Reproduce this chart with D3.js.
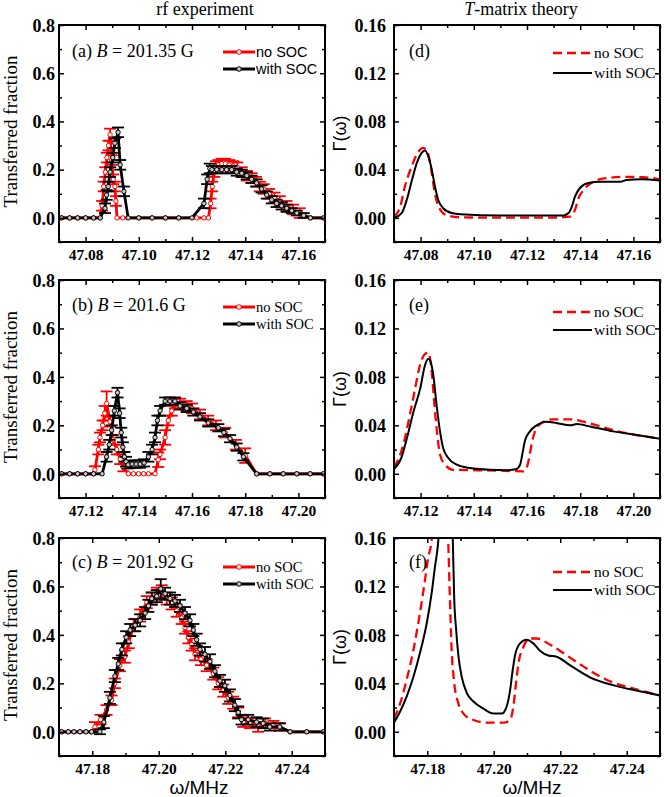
<!DOCTYPE html>
<html><head><meta charset="utf-8">
<script src="https://cdn.jsdelivr.net/npm/d3@7"></script>
<style>body{margin:0;background:#fff}</style>
</head><body><svg id="c" width="664" height="797" xmlns="http://www.w3.org/2000/svg"></svg>
<script>
// ---------------- DATA ----------------
// experimental: [frequency MHz, transferred fraction, error]
const expA_noSOC = [
[47.071,0,0],[47.074,0,0],[47.077,0,0],[47.080,0,0],[47.083,0,0],[47.0855,0,0],
[47.0862,0.05,0.02],[47.0868,0.13,0.02],[47.0874,0.19,0.02],[47.0880,0.25,0.02],[47.0886,0.30,0.02],[47.0892,0.345,0.025],[47.0898,0.24,0.02],[47.0904,0.16,0.02],[47.0910,0.13,0.02],[47.0914,0.07,0.02],[47.0918,0,0],[47.0940,0,0],
[47.1000,0,0],[47.1050,0,0],[47.1100,0,0],[47.1150,0,0],[47.1218,0,0],[47.1245,0,0],[47.1262,0,0],
[47.1270,0.06,0.02],[47.1276,0.13,0.02],[47.1284,0.19,0.02],[47.1290,0.215,0.02],[47.1300,0.22,0.02],[47.1312,0.225,0.02],[47.1325,0.225,0.02],[47.1340,0.22,0.02],[47.1355,0.215,0.02],[47.1370,0.21,0.02],[47.1387,0.19,0.02],[47.1406,0.175,0.02],[47.1424,0.165,0.02],[47.1440,0.15,0.02],[47.1455,0.13,0.02],[47.1470,0.12,0.02],[47.1490,0.10,0.02],[47.1510,0.085,0.02],[47.1530,0.07,0.02],[47.1555,0.05,0.02],[47.1580,0.035,0.02],[47.1605,0.02,0.02],[47.1645,0,0],[47.1695,0,0]
];
const expA_SOC = [
[47.071,0,0],[47.074,0,0],[47.077,0,0],[47.080,0,0],[47.083,0,0],[47.0855,0,0],
[47.0873,0.04,0.02],[47.0879,0.095,0.02],[47.0885,0.13,0.02],[47.0892,0.19,0.02],[47.0902,0.25,0.02],[47.0910,0.31,0.02],[47.0922,0.355,0.02],[47.0930,0.22,0.02],[47.0944,0.11,0.02],[47.0960,0,0],
[47.1000,0,0],[47.1050,0,0],[47.1100,0,0],[47.1150,0,0],[47.1200,0,0],
[47.1245,0.06,0.02],[47.1257,0.16,0.02],[47.1267,0.205,0.02],[47.1275,0.20,0.015],[47.1293,0.20,0.015],[47.1312,0.20,0.015],[47.1330,0.20,0.015],[47.1349,0.20,0.015],[47.1368,0.19,0.015],[47.1387,0.185,0.015],[47.1406,0.175,0.015],[47.1424,0.16,0.015],[47.1443,0.145,0.015],[47.1462,0.12,0.015],[47.1481,0.095,0.015],[47.1500,0.075,0.015],[47.1518,0.06,0.015],[47.1537,0.05,0.015],[47.1556,0.04,0.015],[47.1575,0.03,0.01],[47.1594,0.02,0.01],[47.1620,0.01,0.01],[47.1645,0,0],[47.1695,0,0]
];
const expB_noSOC = [
[47.111,0,0],[47.114,0,0],[47.117,0,0],[47.120,0,0],[47.123,0,0],
[47.1235,0.016,0.015],[47.1248,0.10,0.02],[47.1254,0.15,0.02],[47.1264,0.20,0.02],[47.1272,0.25,0.03],[47.1279,0.29,0.05],[47.1292,0.215,0.02],[47.1304,0.14,0.02],[47.1317,0.10,0.02],[47.1330,0.06,0.02],[47.1342,0.025,0.015],
[47.1361,0,0],[47.1380,0,0],[47.1399,0,0],[47.1418,0,0],[47.1436,0,0],[47.1461,0,0],
[47.1473,0.058,0.03],[47.1480,0.08,0.02],[47.1499,0.15,0.03],[47.1511,0.22,0.02],[47.1524,0.26,0.02],[47.1536,0.29,0.02],[47.1555,0.29,0.02],[47.1580,0.28,0.02],[47.1600,0.27,0.02],[47.1630,0.245,0.02],[47.1661,0.22,0.02],[47.1690,0.20,0.02],[47.1725,0.17,0.02],[47.1765,0.12,0.02],[47.1800,0.075,0.03],[47.1843,0,0],
[47.1893,0,0],[47.1943,0,0],[47.1994,0,0],[47.2044,0,0],[47.2094,0,0]
];
const expB_SOC = [
[47.111,0,0],[47.114,0,0],[47.117,0,0],[47.120,0,0],[47.123,0,0],[47.1262,0,0],
[47.1279,0.07,0.02],[47.1289,0.12,0.02],[47.1298,0.18,0.02],[47.1308,0.26,0.02],[47.1320,0.335,0.02],[47.1328,0.25,0.02],[47.1334,0.17,0.02],[47.1340,0.11,0.02],[47.1346,0.07,0.02],[47.1352,0.05,0.02],[47.1360,0.037,0.015],[47.1375,0.04,0.015],[47.1390,0.04,0.015],[47.1405,0.04,0.015],[47.1420,0.045,0.015],[47.1436,0.07,0.02],[47.1450,0.10,0.02],[47.1461,0.15,0.02],[47.1470,0.22,0.02],[47.1480,0.26,0.02],[47.1499,0.30,0.015],[47.1517,0.30,0.015],[47.1536,0.30,0.015],[47.1555,0.28,0.015],[47.1580,0.27,0.015],[47.1605,0.255,0.015],[47.1630,0.235,0.015],[47.1661,0.21,0.015],[47.1699,0.19,0.015],[47.1720,0.17,0.015],[47.1743,0.145,0.015],[47.1768,0.11,0.015],[47.1793,0.07,0.015],[47.1843,0,0],
[47.1893,0,0],[47.1943,0,0],[47.1994,0,0],[47.2044,0,0],[47.2094,0,0]
];
const expC_noSOC = [
[47.1708,0,0],[47.1728,0,0],[47.1745,0,0],[47.1763,0,0],[47.1781,0,0],[47.1798,0,0],
[47.1808,0.02,0.02],[47.1825,0.05,0.02],[47.1843,0.09,0.02],[47.1858,0.13,0.02],[47.1868,0.20,0.02],[47.1883,0.275,0.025],[47.1898,0.31,0.025],[47.1910,0.37,0.025],[47.1925,0.44,0.025],[47.1944,0.48,0.025],[47.1964,0.535,0.025],[47.1979,0.55,0.025],[47.1994,0.57,0.025],[47.2009,0.58,0.025],[47.2024,0.55,0.025],[47.2039,0.53,0.025],[47.2054,0.50,0.025],[47.2069,0.47,0.025],[47.2079,0.43,0.025],[47.2089,0.39,0.025],[47.2099,0.36,0.025],[47.2109,0.32,0.025],[47.2127,0.30,0.025],[47.2144,0.275,0.025],[47.2164,0.24,0.025],[47.2179,0.20,0.025],[47.2194,0.17,0.025],[47.2209,0.14,0.025],[47.2224,0.12,0.025],[47.2239,0.08,0.02],[47.2254,0.04,0.02],[47.2274,0.035,0.02],[47.2299,0.02,0.02],[47.2320,0.035,0.02],[47.2345,0.03,0.015],[47.2364,0.02,0.015],[47.2395,0,0],[47.2445,0,0],[47.2495,0,0]
];
const expC_SOC = [
[47.1708,0,0],[47.1728,0,0],[47.1745,0,0],[47.1763,0,0],[47.1781,0,0],[47.1798,0,0],[47.1823,0,0.01],
[47.1835,0.04,0.025],[47.1853,0.14,0.025],[47.1868,0.23,0.025],[47.1878,0.28,0.025],[47.1889,0.34,0.025],[47.1902,0.39,0.025],[47.1914,0.42,0.025],[47.1929,0.44,0.025],[47.1944,0.46,0.025],[47.1959,0.49,0.025],[47.1969,0.52,0.025],[47.1979,0.55,0.025],[47.1994,0.56,0.025],[47.2006,0.59,0.04],[47.2019,0.57,0.025],[47.2034,0.55,0.025],[47.2049,0.54,0.025],[47.2064,0.52,0.025],[47.2079,0.49,0.025],[47.2094,0.46,0.025],[47.2104,0.42,0.025],[47.2114,0.38,0.025],[47.2124,0.34,0.025],[47.2139,0.32,0.03],[47.2154,0.29,0.03],[47.2169,0.25,0.025],[47.2184,0.21,0.025],[47.2199,0.19,0.025],[47.2214,0.15,0.025],[47.2229,0.11,0.025],[47.2239,0.08,0.025],[47.2249,0.05,0.02],[47.2269,0.05,0.02],[47.2294,0.04,0.02],[47.2314,0.035,0.02],[47.2334,0.02,0.015],[47.2364,0.02,0.015],[47.2395,0,0],[47.2445,0,0],[47.2495,0,0]
];
// theory: [frequency MHz, Gamma(omega)]
const thD_noSOC = [[47.0700,0.001],[47.0723,0.009],[47.0741,0.026],[47.0767,0.043],[47.0792,0.055],[47.0810,0.058],[47.0827,0.054],[47.0840,0.040],[47.0854,0.020],[47.0873,0.007],[47.0900,0.002],[47.0950,0.0005],[47.1100,0.0002],[47.1300,0.0003],[47.1361,0.001],[47.1381,0.007],[47.1393,0.016],[47.1412,0.023],[47.1450,0.030],[47.1500,0.033],[47.1562,0.034],[47.1637,0.0337],[47.1700,0.032]];
const thD_SOC = [[47.0700,0.000],[47.0729,0.004],[47.0748,0.015],[47.0767,0.031],[47.0785,0.045],[47.0804,0.054],[47.0817,0.056],[47.0829,0.051],[47.0842,0.040],[47.0854,0.026],[47.0866,0.015],[47.0885,0.008],[47.0917,0.004],[47.0950,0.003],[47.1100,0.002],[47.1337,0.002],[47.1356,0.004],[47.1368,0.009],[47.1381,0.018],[47.1400,0.025],[47.1431,0.029],[47.1474,0.030],[47.1524,0.030],[47.1550,0.030],[47.1575,0.0315],[47.1630,0.032],[47.1700,0.031]];
const thE_noSOC = [[47.1100,0.005],[47.1135,0.024],[47.1160,0.049],[47.1179,0.070],[47.1198,0.090],[47.1217,0.099],[47.1229,0.100],[47.1242,0.084],[47.1250,0.062],[47.1260,0.038],[47.1273,0.016],[47.1292,0.0075],[47.1323,0.0033],[47.1480,0.0027],[47.1586,0.002],[47.1598,0.0047],[47.1608,0.013],[47.1617,0.024],[47.1630,0.035],[47.1655,0.042],[47.1700,0.045],[47.1762,0.045],[47.1812,0.043],[47.1924,0.036],[47.2012,0.032],[47.2100,0.029]];
const thE_SOC = [[47.1100,0.004],[47.1129,0.014],[47.1148,0.029],[47.1173,0.051],[47.1198,0.070],[47.1217,0.090],[47.1229,0.095],[47.1235,0.094],[47.1248,0.081],[47.1260,0.057],[47.1273,0.035],[47.1285,0.021],[47.1304,0.013],[47.1336,0.0075],[47.1386,0.0047],[47.1461,0.0033],[47.1524,0.003],[47.1561,0.004],[47.1574,0.0075],[47.1584,0.018],[47.1592,0.027],[47.1611,0.035],[47.1636,0.040],[47.1673,0.043],[47.1710,0.042],[47.1762,0.040],[47.1787,0.041],[47.1837,0.039],[47.1924,0.035],[47.2012,0.032],[47.2100,0.029]];
const thF_noSOC = [[47.1700,0.011],[47.1718,0.023],[47.1738,0.043],[47.1758,0.067],[47.1778,0.098],[47.1793,0.125],[47.1803,0.144],[47.1813,0.158],[47.1825,0.22],[47.1838,0.26],[47.1851,0.22],[47.1863,0.158],[47.1868,0.111],[47.1873,0.070],[47.1880,0.043],[47.1894,0.023],[47.1909,0.015],[47.1939,0.0097],[47.1979,0.0075],[47.2029,0.0075],[47.2049,0.0097],[47.2059,0.021],[47.2067,0.040],[47.2074,0.056],[47.2089,0.070],[47.2109,0.077],[47.2129,0.077],[47.2169,0.072],[47.2209,0.065],[47.2269,0.054],[47.2339,0.043],[47.2429,0.035],[47.2500,0.030]];
const thF_SOC = [[47.1700,0.0075],[47.1718,0.0165],[47.1738,0.029],[47.1758,0.045],[47.1778,0.065],[47.1798,0.089],[47.1813,0.114],[47.1823,0.136],[47.1833,0.157],[47.1845,0.22],[47.1855,0.26],[47.1866,0.22],[47.1877,0.157],[47.1881,0.111],[47.1887,0.084],[47.1894,0.062],[47.1904,0.045],[47.1919,0.032],[47.1939,0.025],[47.1969,0.019],[47.1999,0.015],[47.2024,0.015],[47.2039,0.021],[47.2049,0.034],[47.2057,0.051],[47.2064,0.063],[47.2079,0.073],[47.2099,0.076],[47.2119,0.073],[47.2139,0.067],[47.2164,0.063],[47.2189,0.062],[47.2229,0.055],[47.2289,0.045],[47.2359,0.0385],[47.2429,0.034],[47.2500,0.030]];

// axes / ticks
const xDomainRow1 = [47.07, 47.17], xTicksRow1 = [47.08,47.10,47.12,47.14,47.16], xMinorRow1 = [47.07,47.09,47.11,47.13,47.15,47.17];
const xDomainRow2 = [47.11, 47.21], xTicksRow2 = [47.12,47.14,47.16,47.18,47.20], xMinorRow2 = [47.11,47.13,47.15,47.17,47.19,47.21];
const xDomainRow3 = [47.17, 47.25], xTicksRow3 = [47.18,47.20,47.22,47.24], xMinorRow3 = [47.17,47.19,47.21,47.23,47.25];
const yDomainExp = [-0.1, 0.8], yTicksExp = [0.0,0.2,0.4,0.6,0.8], yMinorExp = [-0.1,0.1,0.3,0.5,0.7];
const yDomainTh = [-0.02, 0.16], yTicksTh = [0.00,0.04,0.08,0.12,0.16], yMinorTh = [-0.02,0.02,0.06,0.10,0.14];
const legendLabels = ["no SOC", "with SOC"];
const columnTitles = ["rf experiment", "T-matrix theory"];
const panelLetters = ["(a)","(b)","(c)","(d)","(e)","(f)"];
const fieldValues = ["201.35 G","201.6 G","201.92 G"];

// ---------------- LAYOUT ----------------
const SERIF = "'Liberation Serif','Times New Roman',serif";
const SANS = "'Liberation Sans',Arial,sans-serif";
const COLS = [{x0:59,x1:325},{x0:394,x1:660}];
const ROWS = [{y0:25,y1:242},{y0:280,y1:498},{y0:538,y1:756}];
const RED = "#ff0000";
const svg = d3.select("#c");

const rowsX = [
  {dom:xDomainRow1, t:xTicksRow1, m:xMinorRow1},
  {dom:xDomainRow2, t:xTicksRow2, m:xMinorRow2},
  {dom:xDomainRow3, t:xTicksRow3, m:xMinorRow3}
];
const expData = [[expA_noSOC,expA_SOC],[expB_noSOC,expB_SOC],[expC_noSOC,expC_SOC]];
const thData = [[thD_noSOC,thD_SOC],[thE_noSOC,thE_SOC],[thF_noSOC,thF_SOC]];
const legendY = [[52,69],[307,324],[567,584]];
const legendYTh = [[53,73],[312,330],[572,590]];
const letterY = [57,311,568];

function drawFrame(g, x, y, xr, yTicks, yMinor, yFmt, labelX){
  const r = {x0:x.range()[0], x1:x.range()[1], y0:y.range()[1], y1:y.range()[0]};
  const ab = d3.axisBottom(x).tickValues(xr.t).tickFormat(d3.format(".2f")).tickSize(-5).tickPadding(6);
  const gb = g.append("g").attr("transform",`translate(0,${r.y1})`).call(ab);
  gb.selectAll("text").attr("font-family",SERIF).attr("font-weight","bold").attr("font-size",15.5).attr("fill","#000").attr("dy","0.75em");
  g.append("g").attr("transform",`translate(0,${r.y1})`).call(d3.axisBottom(x).tickValues(xr.m).tickFormat("").tickSize(-3));
  g.append("g").attr("transform",`translate(0,${r.y0})`).call(d3.axisTop(x).tickValues(xr.t).tickFormat("").tickSize(-5));
  g.append("g").attr("transform",`translate(0,${r.y0})`).call(d3.axisTop(x).tickValues(xr.m).tickFormat("").tickSize(-3));
  const al = d3.axisLeft(y).tickValues(yTicks).tickFormat(d3.format(yFmt)).tickSize(-5).tickPadding(0);
  const gl = g.append("g").attr("transform",`translate(${r.x0},0)`).call(al);
  gl.selectAll("text").attr("font-family",SERIF).attr("font-weight","bold").attr("font-size",18).attr("fill","#000")
    .attr("x", labelX - r.x0).attr("dy","0.35em");
  g.append("g").attr("transform",`translate(${r.x0},0)`).call(d3.axisLeft(y).tickValues(yMinor).tickFormat("").tickSize(-3));
  g.append("g").attr("transform",`translate(${r.x1},0)`).call(d3.axisRight(y).tickValues(yTicks).tickFormat("").tickSize(-5));
  g.append("g").attr("transform",`translate(${r.x1},0)`).call(d3.axisRight(y).tickValues(yMinor).tickFormat("").tickSize(-3));
  g.selectAll(".domain").remove();
  g.selectAll(".tick line").attr("stroke","#000").attr("stroke-width",1.5);
  g.append("rect").attr("x",r.x0).attr("y",r.y0).attr("width",r.x1-r.x0).attr("height",r.y1-r.y0)
    .attr("fill","none").attr("stroke","#000").attr("stroke-width",2);
}

function drawExpSeries(g, data, x, y, color, fill){
  const line = d3.line().x(d=>x(d[0])).y(d=>y(d[1]));
  g.append("path").datum(data).attr("d",line).attr("fill","none").attr("stroke",color)
    .attr("stroke-width",2.8).attr("stroke-linejoin","round");
  const eb = g.append("g").attr("stroke",color).attr("stroke-width",1.8);
  data.filter(d=>d[2]>0).forEach(d=>{
    const cx=x(d[0]), yt=y(d[1]+d[2]), yb=y(d[1]-d[2]);
    eb.append("line").attr("x1",cx).attr("x2",cx).attr("y1",yt).attr("y2",yb);
    eb.append("line").attr("x1",cx-6).attr("x2",cx+6).attr("y1",yt).attr("y2",yt);
    eb.append("line").attr("x1",cx-6).attr("x2",cx+6).attr("y1",yb).attr("y2",yb);
  });
  g.append("g").selectAll("circle").data(data).join("circle")
    .attr("cx",d=>x(d[0])).attr("cy",d=>y(d[1])).attr("r",2.2)
    .attr("fill",fill).attr("stroke",color).attr("stroke-width",1);
}

for(let row=0; row<3; row++){
  {
    const c = COLS[0], rr = ROWS[row], xr = rowsX[row];
    const x = d3.scaleLinear().domain(xr.dom).range([c.x0,c.x1]);
    const y = d3.scaleLinear().domain(yDomainExp).range([rr.y1,rr.y0]);
    const g = svg.append("g");
    const cid = "clipL"+row;
    svg.append("clipPath").attr("id",cid).append("rect").attr("x",c.x0).attr("y",rr.y0).attr("width",c.x1-c.x0).attr("height",rr.y1-rr.y0);
    const gd = g.append("g").attr("clip-path",`url(#${cid})`);
    drawExpSeries(gd, expData[row][0], x, y, RED, "#fff");
    drawExpSeries(gd, expData[row][1], x, y, "#000", "#c8c8c8");
    drawFrame(g, x, y, xr, yTicksExp, yMinorExp, ".1f", 55);
    const t = g.append("text").attr("x",72).attr("y",letterY[row]).attr("font-family",SERIF).attr("font-size",18).attr("fill","#000");
    t.append("tspan").text(panelLetters[row]+" ");
    t.append("tspan").attr("font-style","italic").text("B");
    t.append("tspan").text(" = "+fieldValues[row]);
    const lf = row===0 ? SANS : SERIF;
    [[RED,"#fff"],["#000","#c8c8c8"]].forEach((s,i)=>{
      const ly = legendY[row][i];
      g.append("line").attr("x1",223).attr("x2",255).attr("y1",ly).attr("y2",ly).attr("stroke",s[0]).attr("stroke-width",3);
      g.append("circle").attr("cx",239).attr("cy",ly).attr("r",2.3).attr("fill",s[1]).attr("stroke",s[0]).attr("stroke-width",1);
      g.append("text").attr("x",256).attr("y",ly).attr("dy","0.35em").attr("font-family",lf).attr("font-size",14.5).attr("fill","#000").text(legendLabels[i]);
    });
    g.append("text").attr("transform",`translate(17,${(rr.y0+rr.y1)/2-2}) rotate(-90)`).attr("text-anchor","middle")
      .attr("font-family",SERIF).attr("font-size",19).attr("fill","#000").text("Transferred fraction");
  }
  {
    const c = COLS[1], rr = ROWS[row], xr = rowsX[row];
    const x = d3.scaleLinear().domain(xr.dom).range([c.x0,c.x1]);
    const y = d3.scaleLinear().domain(yDomainTh).range([rr.y1,rr.y0]);
    const g = svg.append("g");
    const cid = "clipR"+row;
    svg.append("clipPath").attr("id",cid).append("rect").attr("x",c.x0).attr("y",rr.y0).attr("width",c.x1-c.x0).attr("height",rr.y1-rr.y0);
    const gd = g.append("g").attr("clip-path",`url(#${cid})`);
    const line = d3.line().x(d=>x(d[0])).y(d=>y(d[1])).curve(d3.curveMonotoneX);
    gd.append("path").datum(thData[row][0]).attr("d",line).attr("fill","none").attr("stroke",RED).attr("stroke-width",2.3).attr("stroke-dasharray","9,5");
    gd.append("path").datum(thData[row][1]).attr("d",line).attr("fill","none").attr("stroke","#000").attr("stroke-width",2);
    drawFrame(g, x, y, xr, yTicksTh, yMinorTh, ".2f", 386);
    g.append("text").attr("x",409).attr("y",letterY[row]).attr("font-family",SERIF).attr("font-size",18).attr("fill","#000").text(panelLetters[row+3]);
    [[RED,"9,5",2.3],["#000",null,2]].forEach((s,i)=>{
      const ly = legendYTh[row][i];
      const l = g.append("line").attr("x1",553).attr("x2",592).attr("y1",ly).attr("y2",ly).attr("stroke",s[0]).attr("stroke-width",s[2]);
      if(s[1]) l.attr("stroke-dasharray",s[1]);
      g.append("text").attr("x",594).attr("y",ly).attr("dy","0.35em").attr("font-family",SERIF).attr("font-size",15.5).attr("fill","#000").text(legendLabels[i]);
    });
    g.append("text").attr("transform",`translate(346,${(rr.y0+rr.y1)/2}) rotate(-90)`).attr("text-anchor","middle")
      .attr("font-family",SANS).attr("font-size",18).attr("fill","#000").text("Γ(ω)");
  }
}
svg.append("text").attr("x",205).attr("y",15).attr("text-anchor","middle").attr("font-family",SERIF).attr("font-size",18).attr("fill","#000").text(columnTitles[0]);
const tt = svg.append("text").attr("x",521).attr("y",15).attr("text-anchor","middle").attr("font-family",SERIF).attr("font-size",18).attr("fill","#000");
tt.append("tspan").attr("font-style","italic").text(columnTitles[1].slice(0,1));
tt.append("tspan").text(columnTitles[1].slice(1));
svg.append("text").attr("x",199).attr("y",794).attr("text-anchor","middle").attr("font-family",SANS).attr("font-size",19).attr("fill","#000").text("ω/MHz");
svg.append("text").attr("x",532).attr("y",794).attr("text-anchor","middle").attr("font-family",SANS).attr("font-size",19).attr("fill","#000").text("ω/MHz");
</script></body></html>
